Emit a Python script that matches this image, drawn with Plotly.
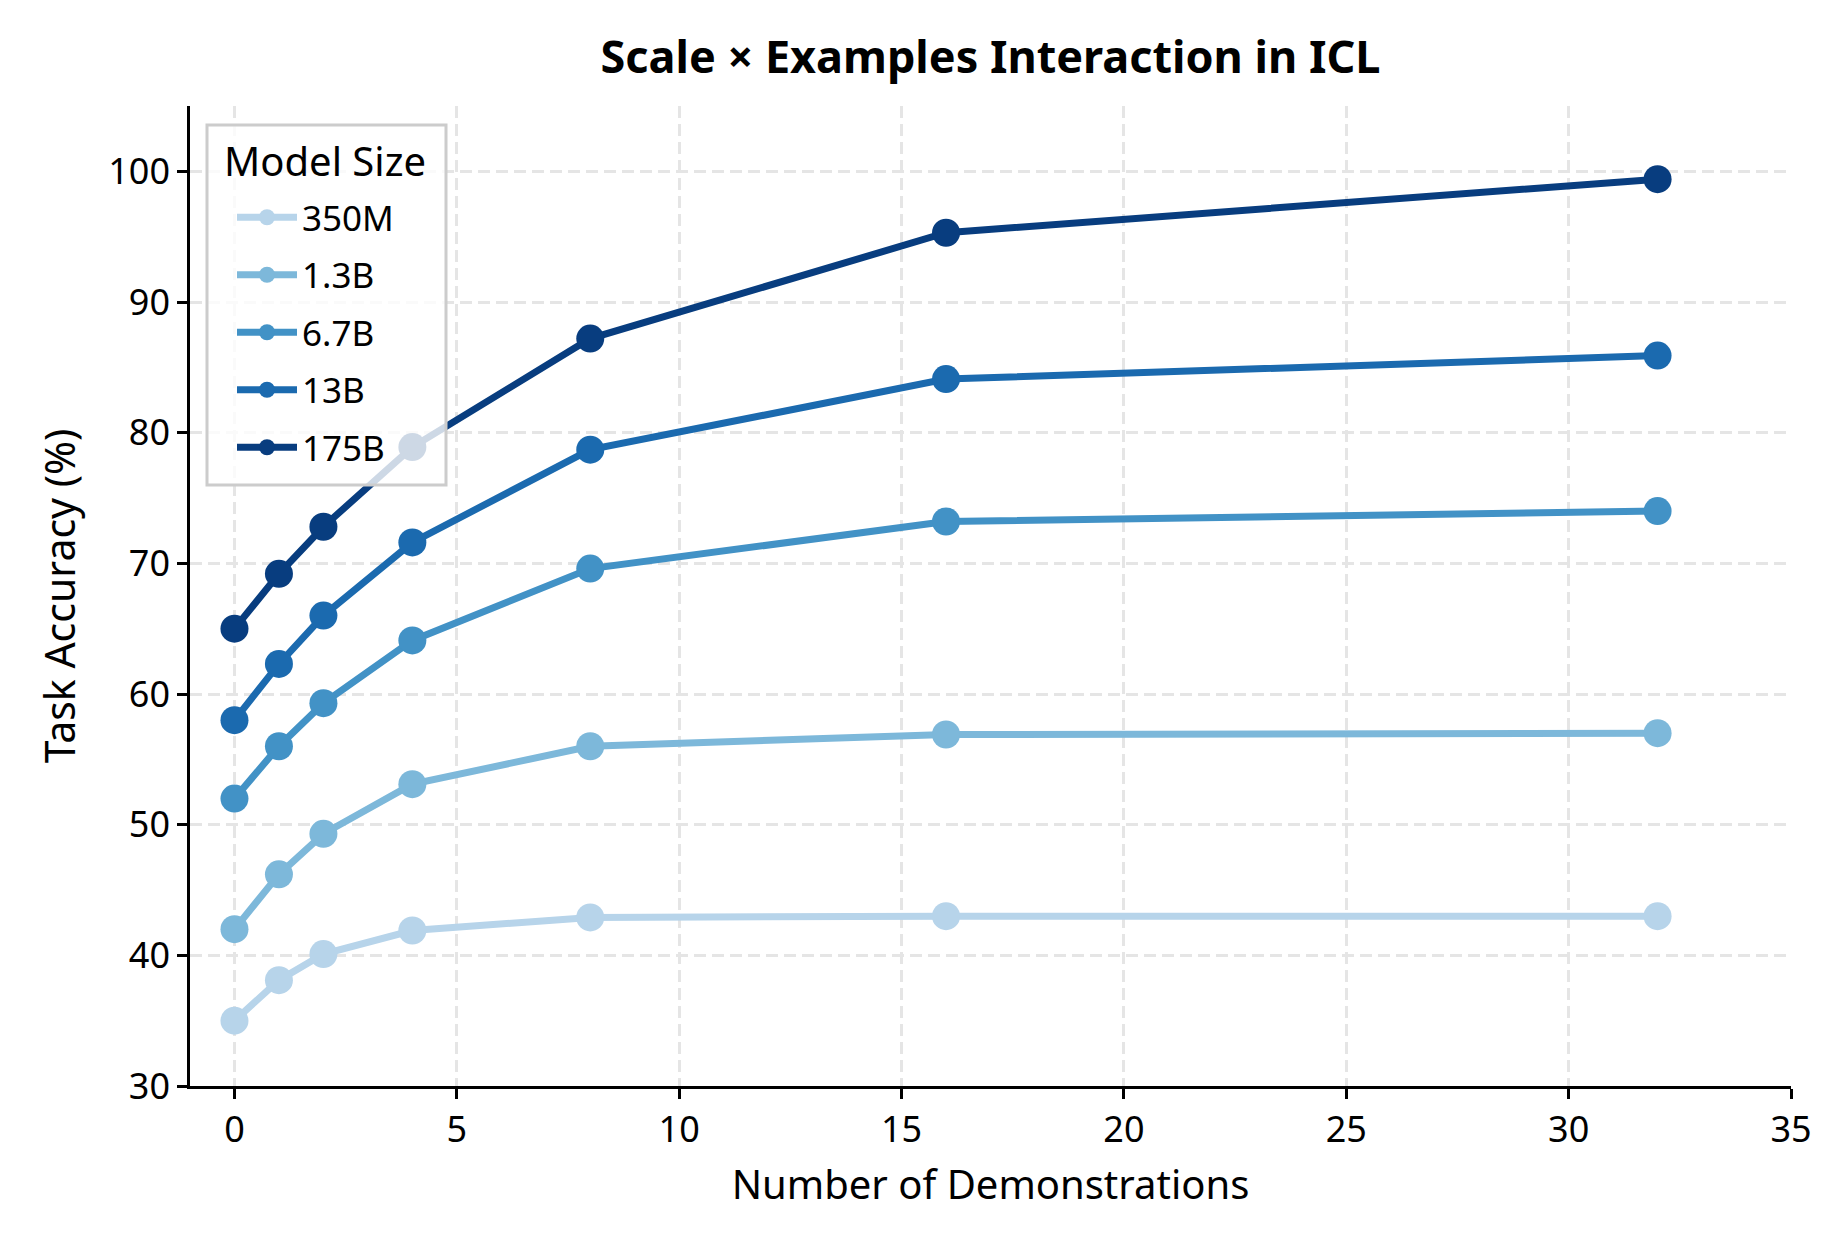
import plotly.graph_objects as go

demos = [0, 1, 2, 4, 8, 16, 32]
model_sizes = ["350M", "1.3B", "6.7B", "13B", "175B"]
acc_350m = [35.0, 38.1, 40.1, 41.9, 42.9, 43.0, 43.0]
acc_1_3b = [42.0, 46.2, 49.3, 53.1, 56.0, 56.9, 57.0]
acc_6_7b = [52.0, 56.0, 59.3, 64.1, 69.6, 73.2, 74.0]
acc_13b = [58.0, 62.3, 66.0, 71.6, 78.7, 84.1, 85.9]
acc_175b = [65.0, 69.2, 72.8, 78.9, 87.2, 95.3, 99.4]
series = [acc_350m, acc_1_3b, acc_6_7b, acc_13b, acc_175b]
colors = ["#b7d4ea", "#7db8da", "#4292c6", "#1b6aaf", "#083d7f"]
x_ticks = [0, 5, 10, 15, 20, 25, 30, 35]
y_ticks = [30, 40, 50, 60, 70, 80, 90, 100]

FONT = "Noto Sans"
W, H = 1834, 1234
L, R, T, B = 182, 51, 98, 156
PW, PH = W - L - R, H - T - B


def px_x(px):
    return (px - L) / PW


def px_y(py):
    return (H - B - py) / PH


fig = go.Figure()
for name, vals, col in zip(model_sizes, series, colors):
    fig.add_trace(go.Scatter(
        x=demos, y=vals, name=name, mode="lines+markers",
        line=dict(color=col, width=7),
        marker=dict(color=col, size=28),
        legendgroup=name,
    ))

# legend frame (semi-transparent, drawn over the lines like a matplotlib legend)
fig.add_shape(
    type="rect", xref="paper", yref="paper",
    x0=px_x(199), x1=px_x(438), y0=px_y(477), y1=px_y(117),
    line=dict(color="#cccccc", width=3),
    fillcolor="rgba(255,255,255,0.8)", layer="above",
)
fig.add_annotation(
    text="Model Size", xref="paper", yref="paper",
    x=px_x(214), y=px_y(152), xanchor="left", yanchor="middle",
    showarrow=False, font=dict(family=FONT, size=40, color="black"),
)

fig.update_layout(
    width=W, height=H,
    margin=dict(l=L, r=R, t=T, b=B),
    paper_bgcolor="white", plot_bgcolor="white",
    font=dict(family=FONT, size=35, color="black"),
    title=dict(
        text="<b>Scale × Examples Interaction in ICL</b>",
        x=0.5, xref="paper", xanchor="center",
        y=1 - 49 / H, yref="container", yanchor="middle",
        font=dict(family=FONT, size=45, color="black"),
    ),
    showlegend=True,
    legend=dict(
        x=px_x(224), y=px_y(180),
        xanchor="left", yanchor="top",
        bgcolor="rgba(0,0,0,0)", borderwidth=0,
        font=dict(family=FONT, size=35, color="black"),
        tracegroupgap=9,
        itemwidth=60,
    ),
)

fig.update_xaxes(
    range=[-1, 35], tickmode="array", tickvals=x_ticks,
    showline=True, linecolor="black", linewidth=2.5, mirror=False,
    ticks="outside", ticklen=10, tickwidth=2.5, tickcolor="black",
    showgrid=True, gridcolor="#e5e5e5", gridwidth=2.5, griddash="12px,6px",
    zeroline=False,
    tickfont=dict(family=FONT, size=36),
    title=dict(text="Number of Demonstrations", standoff=20,
               font=dict(family=FONT, size=40)),
)
fig.update_yaxes(
    range=[30, 105], tickmode="array", tickvals=y_ticks,
    showline=True, linecolor="black", linewidth=2.5, mirror=False,
    ticks="outside", ticklen=10, tickwidth=2.5, tickcolor="black",
    showgrid=True, gridcolor="#e5e5e5", gridwidth=2.5, griddash="12px,6px",
    zeroline=False,
    tickfont=dict(family=FONT, size=36),
    title=dict(text="Task Accuracy (%)", standoff=20,
               font=dict(family=FONT, size=41)),
)

fig.write_html("out.html")
